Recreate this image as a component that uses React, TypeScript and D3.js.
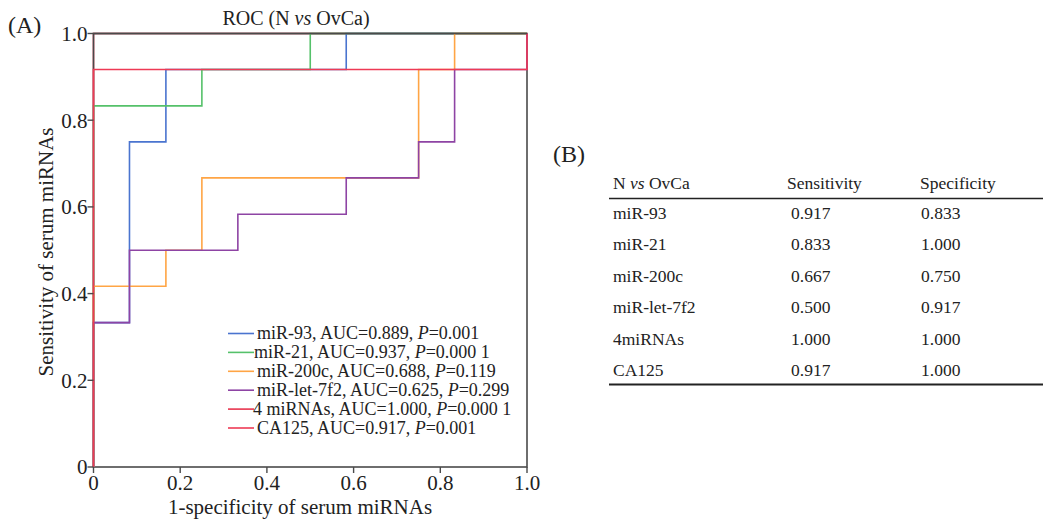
import * as d3 from "d3";

// ROC step curves: [1-specificity, sensitivity]
const rocSeries = [
  {
    name: "miR-93",
    color: "#4a74cf",
    points: [[0, 0], [0, 0.333], [0.083, 0.333], [0.083, 0.75], [0.167, 0.75], [0.167, 0.917], [0.583, 0.917], [0.583, 1], [1, 1]],
  },
  {
    name: "miR-21",
    color: "#55c16a",
    points: [[0, 0], [0, 0.833], [0.25, 0.833], [0.25, 0.917], [0.5, 0.917], [0.5, 1], [1, 1]],
  },
  {
    name: "miR-200c",
    color: "#ffa545",
    points: [[0, 0], [0, 0.417], [0.167, 0.417], [0.167, 0.5], [0.25, 0.5], [0.25, 0.667], [0.75, 0.667], [0.75, 0.917], [0.833, 0.917], [0.833, 1], [1, 1]],
  },
  {
    name: "miR-let-7f2",
    color: "#8e44a4",
    points: [[0, 0], [0, 0.333], [0.083, 0.333], [0.083, 0.5], [0.333, 0.5], [0.333, 0.583], [0.583, 0.583], [0.583, 0.667], [0.75, 0.667], [0.75, 0.75], [0.833, 0.75], [0.833, 0.917], [1, 0.917], [1, 1]],
  },
  {
    name: "4 miRNAs",
    color: "#e8354f",
    points: [[0, 0], [0, 1], [1, 1]],
  },
  {
    name: "CA125",
    color: "#ee3a55",
    points: [[0, 0], [0, 0.917], [1, 0.917], [1, 1]],
  },
];

const legendRows = [
  { label: "miR-93, AUC=0.889, ", p: "0.001", shift: 0 },
  { label: "miR-21, AUC=0.937, ", p: "0.000 1", shift: -3 },
  { label: "miR-200c, AUC=0.688, ", p: "0.119", shift: 0 },
  { label: "miR-let-7f2, AUC=0.625, ", p: "0.299", shift: 0 },
  { label: "4 miRNAs, AUC=1.000, ", p: "0.000 1", shift: -4 },
  { label: "CA125, AUC=0.917, ", p: "0.001", shift: 0 },
];

const tickValues = [0, 0.2, 0.4, 0.6, 0.8, 1.0];
const tickLabels = ["0", "0.2", "0.4", "0.6", "0.8", "1.0"];

const tableNames = ["miR-93", "miR-21", "miR-200c", "miR-let-7f2", "4miRNAs", "CA125"];
const sensitivity = ["0.917", "0.833", "0.667", "0.500", "1.000", "0.917"];
const specificity = ["0.833", "1.000", "0.750", "0.917", "1.000", "1.000"];

const W = 1043;
const H = 522;
const font = "'Liberation Serif', 'Times New Roman', serif";
const axisColor = "#4a4a4a";

const App = () => {
  const x = d3.scaleLinear().domain([0, 1]).range([93.5, 527]);
  const y = d3.scaleLinear().domain([0, 1]).range([467, 33.5]);
  const line = d3.line<number[]>().x(d => x(d[0])).y(d => y(d[1]));

  const rowY = d3.scalePoint<number>().domain(d3.range(tableNames.length)).range([219, 376]);

  // the 4 miRNAs curve runs along the frame, so it sits underneath it
  const under = rocSeries.filter(s => s.name === "4 miRNAs");
  const over = rocSeries.filter(s => s.name !== "4 miRNAs");

  return (
    <svg width={W} height={H} style={{ position: "absolute", left: 0, top: 0 }} fontFamily={font}>
      <rect width={W} height={H} fill="#fff" />
      {/* panel A */}
      <text x={8} y={33} fontSize={24} fill="#222">(A)</text>
      <text x={296} y={25} fontSize={20} textAnchor="middle" fill="#222">
        ROC (N <tspan fontStyle="italic">vs</tspan> OvCa)
      </text>

      {under.map(s => (
        <path key={s.name} d={line(s.points) || ""} fill="none" stroke={s.color} strokeWidth={1.6} />
      ))}
      {/* frame */}
      <rect x={x(0)} y={y(1)} width={x(1) - x(0)} height={y(0) - y(1)} fill="none" stroke={axisColor} strokeWidth={1.6} />

      {over.map(s => (
        <path key={s.name} d={line(s.points) || ""} fill="none" stroke={s.color} strokeWidth={1.6} />
      ))}
      <line x1={x(0)} x2={x(1)} y1={y(1)} y2={y(1)} stroke={axisColor} strokeWidth={1.6} />

      {/* y axis ticks */}
      {tickValues.map((v, i) => (
        <g key={"y" + i}>
          <line x1={x(0) - 6} x2={x(0)} y1={y(v)} y2={y(v)} stroke={axisColor} strokeWidth={1.4} />
          <text x={x(0) - 6} y={y(v)} dy="0.35em" textAnchor="end" fontSize={21} fill="#222">{tickLabels[i]}</text>
        </g>
      ))}
      {/* x axis ticks */}
      {tickValues.map((v, i) => (
        <g key={"x" + i}>
          <line x1={x(v)} x2={x(v)} y1={y(0)} y2={y(0) + 6} stroke={axisColor} strokeWidth={1.4} />
          <text x={x(v)} y={y(0) + 23} textAnchor="middle" fontSize={21} fill="#222">{tickLabels[i]}</text>
        </g>
      ))}

      <text x={300} y={514} textAnchor="middle" fontSize={21} fill="#222">1-specificity of serum miRNAs</text>
      <text transform={`translate(53, 252) rotate(-90)`} textAnchor="middle" fontSize={21} fill="#222">
        Sensitivity of serum miRNAs
      </text>

      {/* legend */}
      {legendRows.map((r, i) => {
        const ly = 333.5 + i * 18.9;
        return (
          <g key={"lg" + i}>
            <line x1={228} x2={254} y1={ly} y2={ly} stroke={rocSeries[i].color} strokeWidth={1.6} />
            <text x={257 + r.shift} y={ly} dy="0.33em" fontSize={18} fill="#222">
              {r.label}
              <tspan fontStyle="italic">P</tspan>={r.p}
            </text>
          </g>
        );
      })}

      {/* panel B */}
      <text x={553} y={162} fontSize={24} fill="#222">(B)</text>
      <text x={613} y={189} fontSize={17.5} fill="#222">
        N <tspan fontStyle="italic">vs</tspan> OvCa
      </text>
      <text x={787} y={189} fontSize={17.5} fill="#222">Sensitivity</text>
      <text x={920} y={189} fontSize={17.5} fill="#222">Specificity</text>
      <line x1={609} x2={W} y1={198.5} y2={198.5} stroke="#222" strokeWidth={1.5} />
      {tableNames.map((n, i) => (
        <g key={"row" + i}>
          <text x={613} y={rowY(i)} fontSize={17.5} fill="#222">{n}</text>
          <text x={791} y={rowY(i)} fontSize={17.5} fill="#222">{sensitivity[i]}</text>
          <text x={921} y={rowY(i)} fontSize={17.5} fill="#222">{specificity[i]}</text>
        </g>
      ))}
      <line x1={609} x2={W} y1={384.5} y2={384.5} stroke="#222" strokeWidth={2} />
    </svg>
  );
};

export default App;
